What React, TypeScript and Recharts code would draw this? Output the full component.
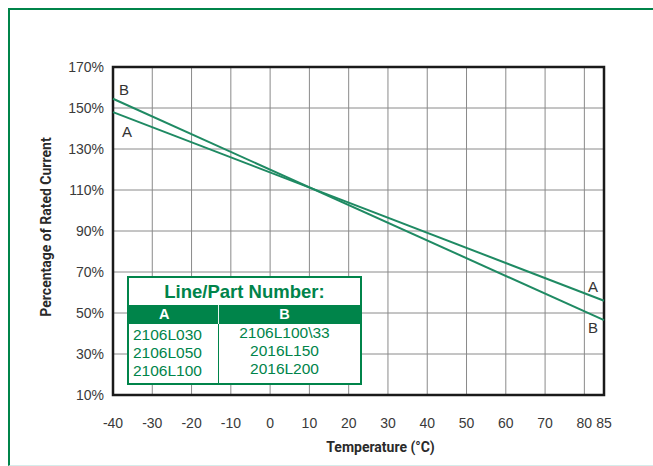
import React from 'react';
import {
  LineChart,
  Line,
  XAxis,
  YAxis,
  CartesianGrid,
  ReferenceArea,
  LabelList,
  Label,
} from 'recharts';

// temperature (°C) at the two ends of each derating line
const temps = [-40, 85];
// percentage of rated current
const lineA = [148, 56];
const lineB = [154.5, 46.5];

const xTicks = [-40, -30, -20, -10, 0, 10, 20, 30, 40, 50, 60, 70, 80, 85];
const yTicks = [10, 30, 50, 70, 90, 110, 130, 150, 170];

const partsA = ['2106L030', '2106L050', '2106L100'];
const partsB = ['2106L100\\33', '2016L150', '2016L200'];

const data = temps.map((t, i) => ({ t, A: lineA[i], B: lineB[i] }));

const GREEN = '#00844a';
const LINE = '#1f8a63';
const TICK = { fill: '#3a3a3a', fontSize: 14, fontFamily: 'Liberation Sans, Arial, sans-serif' };
const TITLE_FONT = "'Liberation Sans Narrow', Roboto, sans-serif";

// label offsets at the first / last point of each line
const endLabelOffsets: Record<string, { dx: number; dy: number }[]> = {
  A: [
    { dx: 14, dy: 19 },
    { dx: -11, dy: -14 },
  ],
  B: [
    { dx: 11, dy: -9 },
    { dx: -11, dy: 7 },
  ],
};

const endLabel = (name: string) => (props: any) => {
  const { x, y, index } = props;
  const off = endLabelOffsets[name][index];
  if (!off) return null;
  return (
    <text
      x={x + off.dx}
      y={y + off.dy}
      textAnchor="middle"
      dominantBaseline="central"
      fill="#333"
      fontSize={15}
      fontFamily="Liberation Sans, Arial, sans-serif"
    >
      {name}
    </text>
  );
};

const YTitle = (props: any) => {
  const { x, y, height } = props.viewBox;
  const cx = x + 36;
  const cy = y + height / 2 - 4;
  return (
    <text
      x={cx}
      y={cy}
      transform={`rotate(-90 ${cx} ${cy})`}
      textAnchor="middle"
      dominantBaseline="central"
      fontWeight="bold"
      fontSize={14}
      fontFamily={TITLE_FONT}
      fill="#2a2a2a"
    >
      Percentage of Rated Current
    </text>
  );
};

const XTitle = (props: any) => {
  const { x, y, width } = props.viewBox;
  return (
    <text
      x={x + width / 2 + 22}
      y={y + 52}
      textAnchor="middle"
      dominantBaseline="central"
      fontWeight="bold"
      fontSize={14}
      fontFamily={TITLE_FONT}
      fill="#2a2a2a"
    >
      Temperature (°C)
    </text>
  );
};

function PartTable() {
  const cell: React.CSSProperties = {
    color: GREEN,
    fontSize: 15.5,
    lineHeight: '18px',
    fontFamily: 'Liberation Sans, Arial, sans-serif',
  };
  return (
    <div
      style={{
        position: 'absolute',
        left: 117,
        top: 266,
        width: 235,
        height: 109,
        boxSizing: 'border-box',
        border: `2px solid ${GREEN}`,
        background: '#fff',
      }}
    >
      <div
        style={{
          height: 27,
          lineHeight: '28px',
          textAlign: 'center',
          color: GREEN,
          fontWeight: 'bold',
          fontSize: 18.5,
          fontFamily: 'Liberation Sans, Arial, sans-serif',
        }}
      >
        Line/Part Number:
      </div>
      <div
        style={{
          display: 'flex',
          height: 19,
          background: GREEN,
          color: '#fff',
          fontWeight: 'bold',
          fontSize: 14.5,
          lineHeight: '19px',
          fontFamily: 'Liberation Sans, Arial, sans-serif',
        }}
      >
        <div style={{ width: 90, paddingLeft: 30, boxSizing: 'border-box', borderRight: '1px solid #e8f3ee' }}>A</div>
        <div style={{ flex: 1, textAlign: 'center', paddingRight: 10 }}>B</div>
      </div>
      <div style={{ display: 'flex' }}>
        <div style={{ width: 90, borderRight: `1px solid ${GREEN}`, paddingLeft: 4, paddingTop: 2, height: 59, boxSizing: 'border-box' }}>
          {partsA.map((p) => (
            <div key={p} style={cell}>{p}</div>
          ))}
        </div>
        <div style={{ flex: 1, textAlign: 'center', paddingRight: 10 }}>
          {partsB.map((p) => (
            <div key={p} style={cell}>{p}</div>
          ))}
        </div>
      </div>
    </div>
  );
}

export default function App() {
  return (
    <div
      style={{
        position: 'absolute',
        left: 8,
        top: 8,
        width: 645,
        height: 458,
        boxSizing: 'border-box',
        borderTop: `2px solid ${GREEN}`,
        borderLeft: `2px solid ${GREEN}`,
        borderBottom: '1px solid #d6ecea',
        background: '#fff',
      }}
    >
      <LineChart
        width={643}
        height={455}
        data={data}
        margin={{ top: 57, right: 49, left: 0, bottom: 0 }}
      >
        <CartesianGrid stroke="#8a8a8a" strokeWidth={1} />
        <XAxis
          dataKey="t"
          type="number"
          domain={[-40, 85]}
          ticks={xTicks}
          interval={0}
          axisLine={false}
          tickLine={false}
          tickSize={0}
          tickMargin={23}
          height={70}
          tick={TICK}
        >
          <Label content={XTitle} />
        </XAxis>
        <YAxis
          type="number"
          domain={[10, 170]}
          ticks={yTicks}
          interval={0}
          axisLine={false}
          tickLine={false}
          tickSize={0}
          tickMargin={9}
          width={103}
          tick={TICK}
          tickFormatter={(v) => `${v}%`}
        >
          <Label content={YTitle} />
        </YAxis>
        <ReferenceArea x1={-40} x2={85} y1={10} y2={170} fill="none" stroke="#1a1a1a" strokeWidth={2.5} />
        <Line dataKey="A" stroke={LINE} strokeWidth={2} dot={false} isAnimationActive={false}>
          <LabelList dataKey="A" content={endLabel('A')} />
        </Line>
        <Line dataKey="B" stroke={LINE} strokeWidth={2} dot={false} isAnimationActive={false}>
          <LabelList dataKey="B" content={endLabel('B')} />
        </Line>
      </LineChart>
      <PartTable />
    </div>
  );
}
